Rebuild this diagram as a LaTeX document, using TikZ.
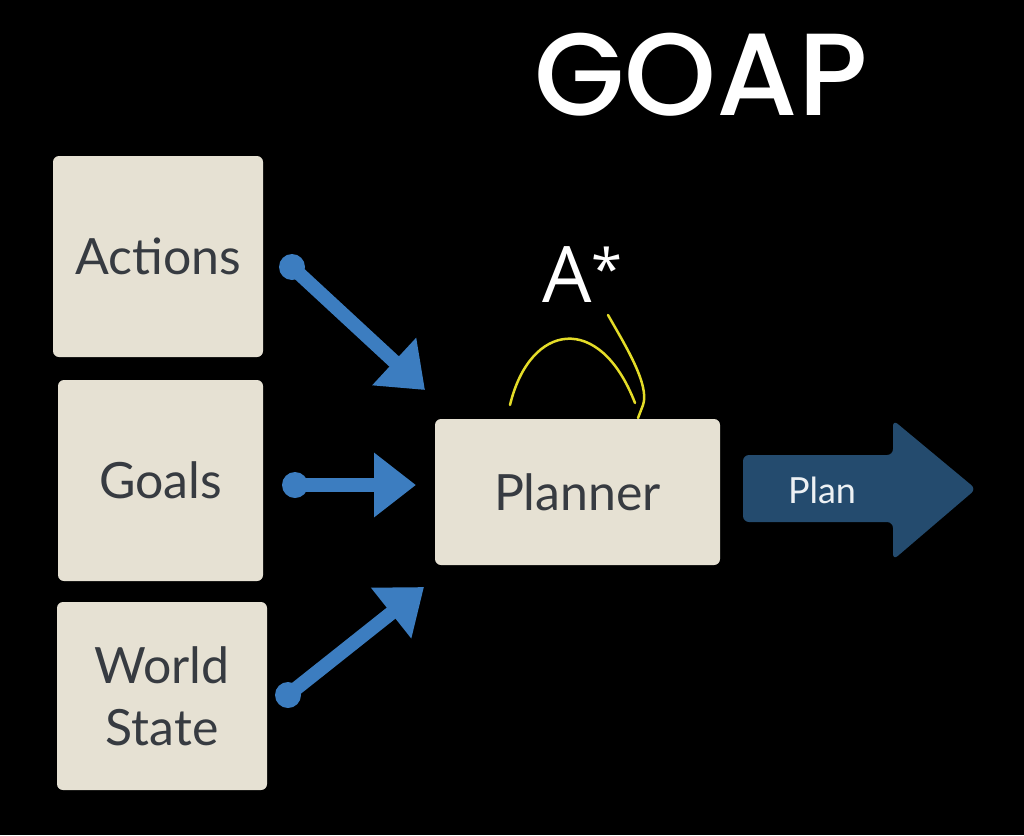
\documentclass[tikz,border=0pt]{standalone}
\usepackage{fontspec}
\setmainfont{Lato}
\newfontfamily\titlefont{Poppins Medium}
\newfontfamily\astfont{Open Sans}
\usetikzlibrary{arrows.meta}
\definecolor{boxfill}{HTML}{E6E1D3}
\definecolor{boxtext}{HTML}{373B41}
\definecolor{flowblue}{HTML}{3C7DC0}
\definecolor{plannavy}{HTML}{244B6E}
\definecolor{scribble}{HTML}{E4DC28}
\tikzset{
  card/.style={fill=boxfill, rounded corners=6pt, inner sep=0pt, text=boxtext,
    font=\fontsize{50}{62}\selectfont, align=center},
  flow/.style={draw=flowblue, line width=14pt,
    -{Triangle[length=42pt,width=62pt]}},
  dotend/.style={fill=flowblue},
  scrib/.style={draw=scribble, line width=2.5pt, line cap=round},
}
\begin{document}
\begin{tikzpicture}[x=1pt,y=-1pt]
\useasboundingbox[fill=black] (0,0) rectangle (1024,835);
\node[text=white, font=\titlefont\fontsize{117}{117}\selectfont] (title) at (701,75) {GOAP};
\node[card, minimum width=210pt, minimum height=201pt] (actions) at (158,256.5) {Actions};
\node[card, minimum width=205pt, minimum height=201pt] (goals) at (160.5,480.5) {Goals};
\node[card, minimum width=210pt, minimum height=188pt] (world) at (162,696) {World\\State};
\node[card, minimum width=285pt, minimum height=146pt] (planner) at (577.5,492) {Planner};
\node[text=white, font=\astfont\fontsize{78}{78}\selectfont, anchor=base west, inner sep=0pt] (astar) at (542,302) {A\kern0pt\raisebox{13pt}{\fontsize{56}{56}\selectfont *}};
% plan arrow
\fill[plannavy, rounded corners=6pt] (743,455) -- (893,455) -- (893,420) -- (976,489) -- (893,560) -- (893,522) -- (743,522) -- cycle;
\node[text=white!92!plannavy, font=\fontsize{36}{36}\selectfont] (plan) at (822,490) {Plan};
% flow arrows
\coordinate (a1s) at (292,267);
\coordinate (a1e) at (425,390);
\coordinate (a2s) at (295,485);
\coordinate (a2e) at (416,485);
\coordinate (a3s) at (288,695);
\coordinate (a3e) at (424,587);
\draw[flow] (a1s) -- (a1e);
\draw[flow] (a2s) -- (a2e);
\draw[flow] (a3s) -- (a3e);
\fill[dotend] (a1s) circle (13pt);
\fill[dotend] (a2s) circle (13pt);
\fill[dotend] (a3s) circle (13pt);
% scribbles
\coordinate (s1a) at (510,405);
\coordinate (s1b) at (635,403);
\coordinate (s2a) at (608,315);
\coordinate (s2b) at (643,405);
\coordinate (s2c) at (638,418);
\draw[scrib] (s1a) .. controls (530,322) and (600,312) .. (s1b);
\draw[scrib] (s2a) .. controls (625,345) and (650,385) .. (s2b) .. controls (641,412) .. (s2c);
\end{tikzpicture}
\end{document}
